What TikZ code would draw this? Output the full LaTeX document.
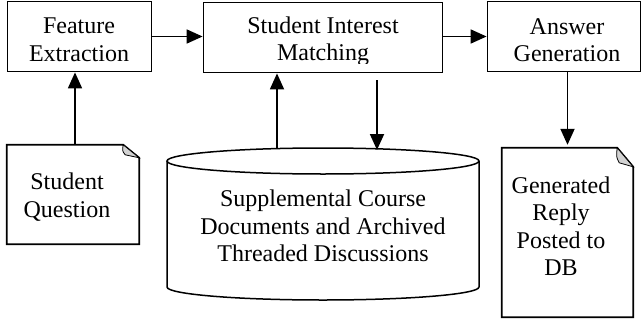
\documentclass[tikz,border=0pt]{standalone}
\usepackage{fontspec}
\setmainfont{Liberation Serif}
\usetikzlibrary{arrows.meta}
\begin{document}
\begin{tikzpicture}[x=1pt,y=-1pt,
  box/.style={draw, line width=1.8pt, inner sep=0pt, minimum height=70pt},
  docshape/.style={inner sep=0pt},
  txt/.style={align=center, font=\fontsize{24}{27.5}\selectfont, inner sep=0pt},
  arr/.style={-{Triangle[length=16pt,width=14pt]}, line width=1.8pt},
  outline/.style={draw, line width=1.8pt, line join=miter},
  flap/.style={fill=gray!35, draw, line width=0.8pt}]
\useasboundingbox (0,0) rectangle (642,324);

% process boxes
\node[box, minimum width=144pt] (fe) at (79.5,36.5) {};
\node[txt] (fetext) at (79,40) {Feature\\Extraction};

\node[box, minimum width=239pt] (sim) at (323,37.5) {};
\begin{scope}
  \clip (204,3) rectangle (442,63);
  \node[txt] (simtext) at (323,41.5) {Student Interest\\Matching};
\end{scope}

\node[box, minimum width=153pt] (ag) at (564,36.5) {};
\node[txt] (agtext) at (567,40) {Answer\\Generation};

% student question document
\node[docshape, minimum width=132pt, minimum height=99pt] (sq) at (73,194.5) {};
\draw[outline] (sq.north west) -- ([xshift=-16pt]sq.north east) -- ([yshift=-13pt]sq.north east) -- (sq.south east) -- (sq.south west) -- cycle;
\draw[flap] ([xshift=-16pt]sq.north east) .. controls ([xshift=-17pt,yshift=-6pt]sq.north east) .. ([xshift=-14pt,yshift=-10pt]sq.north east) -- ([yshift=-13pt]sq.north east) -- cycle;
\node[txt] (sqtext) at (67,197) {Student\\Question};

% generated reply document
\node[docshape, minimum width=131pt, minimum height=169pt] (rep) at (567.5,232.5) {};
\draw[outline] (rep.north west) -- ([xshift=-16pt]rep.north east) -- ([yshift=-19pt]rep.north east) -- (rep.south east) -- (rep.south west) -- cycle;
\draw[flap] ([xshift=-16pt]rep.north east) .. controls ([xshift=-17pt,yshift=-9pt]rep.north east) .. ([xshift=-14pt,yshift=-15pt]rep.north east) -- ([yshift=-19pt]rep.north east) -- cycle;
\node[txt] (reptext) at (561,226) {Generated\\Reply\\Posted to\\DB};

% database cylinder
\draw[line width=1.5pt] (167,161) -- (167,287) arc[start angle=180,end angle=360,x radius=156pt,y radius=13pt] -- (479,161);
\draw[line width=1.5pt] (323,161) ellipse [x radius=156pt, y radius=13pt];
\node[txt] (cyl) at (323,226) {Supplemental Course\\Documents and Archived\\Threaded Discussions};
\coordinate (cylA) at (277,148.5);
\coordinate (cylB) at (377,150);
\coordinate (simB) at (377,80);

% connectors
\draw[arr] (fe.east) -- (fe.east -| sim.west);
\draw[arr] (sim.east |- fe.east) -- (fe.east -| ag.west);
\draw[arr] ([xshift=2pt]sq.north) -- ([xshift=2pt]sq.north |- fe.south);
\draw[arr] (cylA) -- (cylA |- sim.south);
\draw[arr] (simB) -- (cylB);
\draw[arr] (rep.north |- ag.south) -- ([yshift=3pt]rep.north);
\end{tikzpicture}
\end{document}
